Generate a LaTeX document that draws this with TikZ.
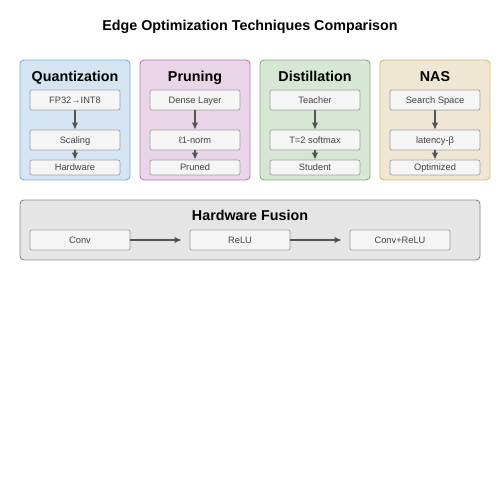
\documentclass[tikz,border=0pt]{standalone}
\usepackage{fontspec}
\setmainfont{Liberation Sans}
\usetikzlibrary{arrows.meta}

\definecolor{quantfill}{RGB}{213,229,243}
\definecolor{quantline}{RGB}{126,178,222}
\definecolor{prunefill}{RGB}{233,212,232}
\definecolor{pruneline}{RGB}{196,122,182}
\definecolor{distfill}{RGB}{214,232,212}
\definecolor{distline}{RGB}{130,180,122}
\definecolor{nasfill}{RGB}{240,230,212}
\definecolor{nasline}{RGB}{222,186,124}
\definecolor{boxfill}{RGB}{245,245,245}
\definecolor{boxline}{RGB}{160,160,160}
\definecolor{fusefill}{RGB}{229,229,229}
\definecolor{fuseline}{RGB}{140,140,140}
\definecolor{flowgray}{RGB}{85,85,85}
\definecolor{textgray}{RGB}{68,68,68}

\tikzset{
	panel/.style={draw, rounded corners=4pt, line width=0.9pt, inner sep=0pt, minimum width=110pt, minimum height=120pt},
	paneltitle/.style={font=\fontsize{14.3}{16}\selectfont\bfseries, inner sep=0pt, text height=10.2pt, text depth=0pt},
	stepbox/.style={draw=boxline, fill=boxfill, rounded corners=2pt, line width=0.7pt, inner sep=0pt, minimum width=90pt, minimum height=20pt, text=textgray, font=\fontsize{9.3}{11}\selectfont, text height=6.7pt, text depth=0pt},
	endbox/.style={stepbox, minimum height=15pt},
	flow/.style={draw=flowgray, line width=1.3pt, -{Latex[length=7pt,width=6.5pt]}}
}

\begin{document}
\begin{tikzpicture}[x=1pt, y=-1pt]
			%%%%% START %%%%%
			\useasboundingbox[fill=white] (0,0) rectangle (500,500);
			
			\node[paneltitle] (title) at (250,25) {Edge Optimization Techniques Comparison};
			
			% quantization
			\node[panel, draw=quantline, fill=quantfill] (quant) at (75,120) {};
			\node[paneltitle] (quanttitle) at (75,76) {Quantization};
			\node[stepbox] (fp) at (75,100) {FP32→INT8};
			\node[stepbox] (scale) at (75,140) {Scaling};
			\node[endbox] (hw) at (75,167.5) {Hardware};
			\draw[flow] (fp) -- (scale);
			\draw[flow] (scale) -- (hw);
			
			% pruning
			\node[panel, draw=pruneline, fill=prunefill] (prune) at (195,120) {};
			\node[paneltitle] (prunetitle) at (195,76) {Pruning};
			\node[stepbox] (dense) at (195,100) {Dense Layer};
			\node[stepbox] (norm) at (195,140) {ℓ1-norm};
			\node[endbox] (pruned) at (195,167.5) {Pruned};
			\draw[flow] (dense) -- (norm);
			\draw[flow] (norm) -- (pruned);
			
			% distillation
			\node[panel, draw=distline, fill=distfill] (dist) at (315,120) {};
			\node[paneltitle] (disttitle) at (315,76) {Distillation};
			\node[stepbox] (teacher) at (315,100) {Teacher};
			\node[stepbox] (soft) at (315,140) {T=2 softmax};
			\node[endbox] (student) at (315,167.5) {Student};
			\draw[flow] (teacher) -- (soft);
			\draw[flow] (soft) -- (student);
			
			% nas
			\node[panel, draw=nasline, fill=nasfill] (nas) at (435,120) {};
			\node[paneltitle] (nastitle) at (435,76) {NAS};
			\node[stepbox] (space) at (435,100) {Search Space};
			\node[stepbox] (lat) at (435,140) {latency-β};
			\node[endbox] (opt) at (435,167.5) {Optimized};
			\draw[flow] (space) -- (lat);
			\draw[flow] (lat) -- (opt);
			
			% hardware fusion
			\node[panel, draw=fuseline, fill=fusefill, minimum width=460pt, minimum height=60pt] (fuse) at (250,230) {};
			\node[paneltitle] (fusetitle) at (250,215) {Hardware Fusion};
			\node[stepbox, minimum width=100pt] (conv) at (80,240) {Conv};
			\node[stepbox, minimum width=100pt] (relu) at (240,240) {ReLU};
			\node[stepbox, minimum width=100pt] (fused) at (400,240) {Conv+ReLU};
			\draw[flow, shorten >=8pt] (conv) -- (relu);
			\draw[flow, shorten >=8pt] (relu) -- (fused);
			
			%%%%% END %%%%%
\end{tikzpicture}
\end{document}
